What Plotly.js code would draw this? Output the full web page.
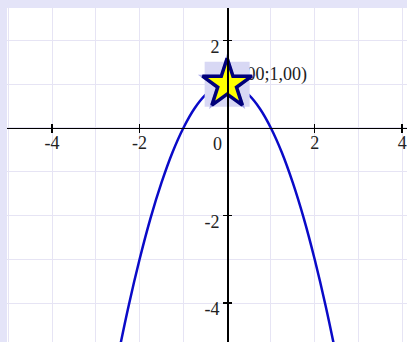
<!DOCTYPE html>
<html>
<head>
<meta charset="utf-8">
<script src="https://cdn.plot.ly/plotly-3.0.1.min.js"></script>
<style>
  html, body { margin: 0; padding: 0; background: #e4e4f8; }
  #chart { width: 407px; height: 342px; }
</style>
</head>
<body>
<div id="chart"></div>
<script>
// Parabola sample points
const curveX = [-2.75, -2.5, -2.25, -2, -1.75, -1.5, -1.25, -1, -0.75, -0.5, -0.25, 0,
                0.25, 0.5, 0.75, 1, 1.25, 1.5, 1.75, 2, 2.25, 2.5, 2.75];
const curveY = [-6.56, -5.25, -4.06, -3, -2.06, -1.25, -0.56, 0, 0.44, 0.75, 0.94, 1,
                0.94, 0.75, 0.44, 0, -0.56, -1.25, -2.06, -3, -4.06, -5.25, -6.56];

// Highlighted point
const pointX = [0];
const pointY = [1];
const pointLabel = ['(0,00;1,00)'];

// Axis ticks
const xTickVals = [-4, -2, 2, 4];
const yTickVals = [-4, -2, 2];
const xRange = [-5.03, 4.11];
const yRange = [-4.89, 2.74];

const serif = "Liberation Serif";
const labelSize = 18;

const traces = [
  {
    x: curveX, y: curveY, mode: 'lines', type: 'scatter',
    line: { color: '#0a0ac8', width: 2.5, shape: 'spline' },
    hoverinfo: 'skip'
  },
  {
    x: pointX, y: pointY, mode: 'text', type: 'scatter',
    text: pointLabel, textposition: 'top right',
    textfont: { family: serif, size: labelSize, color: '#222222' },
    hoverinfo: 'skip'
  },
  {
    x: pointX, y: pointY, mode: 'markers', type: 'scatter',
    marker: { symbol: 'square', size: 45, color: '#d8d8f4', line: { width: 0 } },
    hoverinfo: 'skip'
  },
  {
    x: pointX, y: pointY, mode: 'markers', type: 'scatter',
    marker: { symbol: 'star', size: 44, color: 'rgba(70,70,210,0.45)', line: { width: 0 } },
    hoverinfo: 'skip'
  },
  {
    x: pointX, y: pointY, mode: 'markers', type: 'scatter',
    marker: { symbol: 'star', size: 37, color: '#ffff00', line: { color: '#00007a', width: 3.5 } },
    hoverinfo: 'skip'
  },
  // empty traces so the zero-crossing axes get drawn
  { x: [], y: [], xaxis: 'x2', yaxis: 'y2', type: 'scatter', mode: 'lines', hoverinfo: 'skip' },
  { x: [], y: [], xaxis: 'x3', yaxis: 'y3', type: 'scatter', mode: 'lines', hoverinfo: 'skip' }
];

const xZeroPos = (0 - yRange[0]) / (yRange[1] - yRange[0]);
const yZeroPos = (0 - xRange[0]) / (xRange[1] - xRange[0]);

const gridAxis = {
  showgrid: true, gridcolor: '#e6e4f4', gridwidth: 1, dtick: 1, tick0: 0,
  zeroline: false, showline: false, showticklabels: false, ticks: '',
  fixedrange: true
};

const layout = {
  width: 407, height: 342,
  margin: { l: 7, r: 0, t: 8, b: 0, pad: 0 },
  paper_bgcolor: '#e4e4f8',
  plot_bgcolor: '#ffffff',
  showlegend: false,
  font: { family: serif },
  xaxis: Object.assign({}, gridAxis, { range: xRange }),
  yaxis: Object.assign({}, gridAxis, { range: yRange }),
  xaxis2: {
    overlaying: 'x', anchor: 'free', position: xZeroPos, side: 'bottom',
    range: xRange, showgrid: false, zeroline: false,
    showline: true, linecolor: '#000000', linewidth: 1.5,
    ticks: 'outside', ticklen: 4, tickwidth: 1.5, tickcolor: '#000000',
    tickvals: xTickVals, ticktext: xTickVals.map(String),
    ticklabelstandoff: -6,
    tickfont: { family: serif, size: labelSize, color: '#222222' }
  },
  xaxis3: {
    overlaying: 'x', anchor: 'free', position: xZeroPos, side: 'bottom',
    range: xRange, showgrid: false, zeroline: false, showline: false,
    ticks: 'inside', ticklen: 4, tickwidth: 1.5, tickcolor: '#000000',
    tickvals: xTickVals, showticklabels: false
  },
  yaxis2: {
    overlaying: 'y', anchor: 'free', position: yZeroPos, side: 'left',
    range: yRange, showgrid: false, zeroline: false,
    showline: true, linecolor: '#000000', linewidth: 1.5,
    ticks: 'outside', ticklen: 4, tickwidth: 1.5, tickcolor: '#000000',
    tickvals: yTickVals, ticktext: yTickVals.map(String),
    ticklabelshift: 6,
    tickfont: { family: serif, size: labelSize, color: '#222222' }
  },
  yaxis3: {
    overlaying: 'y', anchor: 'free', position: yZeroPos, side: 'left',
    range: yRange, showgrid: false, zeroline: false, showline: false,
    ticks: 'inside', ticklen: 4, tickwidth: 1.5, tickcolor: '#000000',
    tickvals: yTickVals, showticklabels: false
  },
  annotations: [{
    x: 0, y: 0, xref: 'x', yref: 'y', text: '0', showarrow: false,
    xanchor: 'right', yanchor: 'top', xshift: -3, yshift: -4,
    font: { family: serif, size: labelSize, color: '#222222' }
  }]
};

Plotly.newPlot('chart', traces, layout, { displayModeBar: false, staticPlot: true });
</script>
</body>
</html>
